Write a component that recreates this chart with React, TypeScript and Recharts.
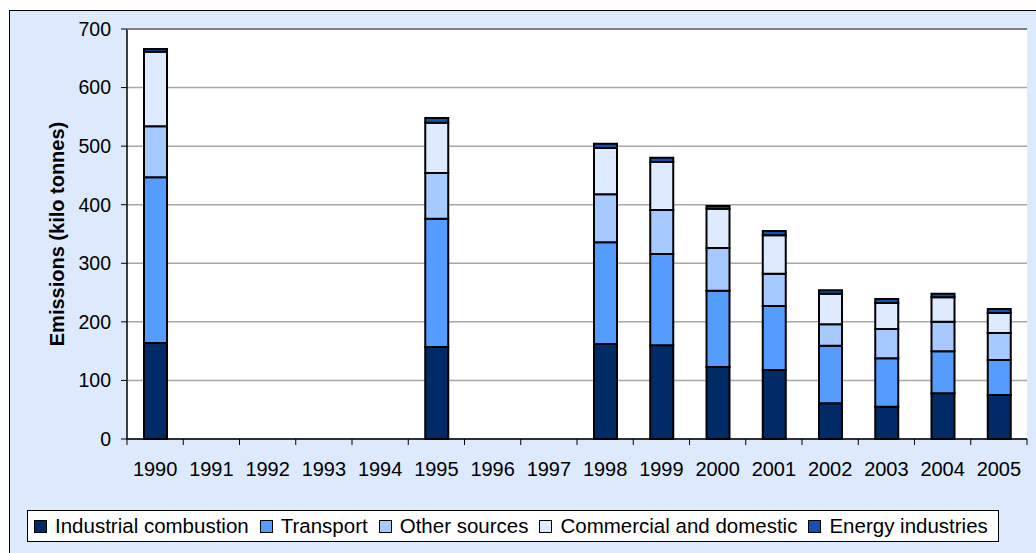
import { Bar, BarChart, CartesianGrid, XAxis, YAxis } from "recharts";

const years = ["1990", "1991", "1992", "1993", "1994", "1995", "1996", "1997", "1998", "1999", "2000", "2001", "2002", "2003", "2004", "2005"];

// kilo tonnes, null where no inventory year
const industrialCombustion = [164, null, null, null, null, 157, null, null, 162, 160, 123, 118, 61, 55, 78, 75];
const transport = [283, null, null, null, null, 219, null, null, 174, 156, 130, 109, 98, 83, 72, 60];
const otherSources = [87, null, null, null, null, 78, null, null, 82, 75, 73, 55, 37, 50, 50, 46];
const commercialDomestic = [127, null, null, null, null, 86, null, null, 79, 82, 67, 66, 52, 44, 42, 34];
const energyIndustries = [5, null, null, null, null, 8, null, null, 7, 7, 5, 7, 6, 7, 6, 7];

const yTicks = [0, 100, 200, 300, 400, 500, 600, 700];

const series = [
  { key: "industrial", name: "Industrial combustion", color: "#002b66", values: industrialCombustion },
  { key: "transport", name: "Transport", color: "#559cff", values: transport },
  { key: "other", name: "Other sources", color: "#a6caff", values: otherSources },
  { key: "commercial", name: "Commercial and domestic", color: "#ddeaff", values: commercialDomestic },
  { key: "energy", name: "Energy industries", color: "#1450b4", values: energyIndustries },
];

const data = years.map((year, i) => {
  const row: Record<string, string | number | null> = { year };
  series.forEach((s) => (row[s.key] = s.values[i]));
  return row;
});

const font = "'Liberation Sans', Arial, sans-serif";
const band = (1027 - 127) / years.length;

function YearTick(props: any) {
  const { x, y, payload, index } = props;
  const left = x - band / 2;
  return (
    <g>
      <line x1={left} y1={y - 8} x2={left} y2={y - 2} stroke="#000" />
      {index === years.length - 1 && <line x1={left + band} y1={y - 8} x2={left + band} y2={y - 2} stroke="#000" />}
      <text x={x} y={y + 29} textAnchor="middle" fontSize={20} fontFamily={font} fill="#000">
        {payload.value}
      </text>
    </g>
  );
}

export default function App() {
  return (
    <div style={{ position: "absolute", left: 0, top: 0, width: 1036, height: 553, overflow: "hidden", fontFamily: font }}>
      <div
        style={{
          position: "absolute",
          left: 9,
          top: 10,
          width: 1040,
          height: 560,
          background: "#dde9fc",
          border: "1px solid #000",
        }}
      />
      <div style={{ position: "absolute", left: 0, top: 0 }}>
        <BarChart width={1036} height={553} data={data} margin={{ top: 29, right: 9, bottom: 114 - 40, left: 0 }}>
          <CartesianGrid vertical={false} stroke="#a8a8a8" strokeWidth={1.5} fill="#fff" />
          <XAxis
            dataKey="year"
            height={40}
            axisLine={{ stroke: "#000", strokeWidth: 1.5 }}
            tickLine={false}
            interval={0}
            tick={<YearTick />}
          />
          <YAxis
            width={127}
            domain={[0, 700]}
            ticks={yTicks}
            interval={0}
            axisLine={{ stroke: "#000", strokeWidth: 1.5 }}
            tickLine={{ stroke: "#000" }}
            tickSize={6}
            tickMargin={10}
            tick={{ fontSize: 19.5, fontFamily: font, fill: "#000" }}
            label={{
              value: "Emissions (kilo tonnes)",
              angle: -90,
              position: "insideLeft",
              dx: 52,
              fontSize: 20,
              fontWeight: "bold",
              fontFamily: font,
              fill: "#000",
              style: { textAnchor: "middle" },
            }}
          />
          <YAxis
            yAxisId="frame"
            orientation="right"
            width={0}
            domain={[0, 700]}
            tick={false}
            tickLine={false}
            axisLine={{ stroke: "#808080", strokeWidth: 2.5 }}
          />
          {series.map((s) => (
            <Bar
              key={s.key}
              dataKey={s.key}
              name={s.name}
              stackId="a"
              fill={s.color}
              stroke="#000"
              strokeWidth={2}
              barSize={23}
              isAnimationActive={false}
            />
          ))}
        </BarChart>
      </div>
      <div style={{ position: "absolute", left: 127, top: 28, width: 900, height: 0, borderTop: "2px solid #808080" }} />
      <div
        style={{
          position: "absolute",
          left: 27,
          top: 510,
          width: 972,
          height: 32,
          background: "#fff",
          border: "1px solid #000",
          display: "flex",
          alignItems: "center",
          paddingLeft: 6,
          boxSizing: "border-box",
          fontSize: 20.5,
          color: "#000",
          whiteSpace: "nowrap",
        }}
      >
        {series.map((s) => (
          <div key={s.key} style={{ display: "flex", alignItems: "center", marginRight: 11 }}>
            <div style={{ width: 11, height: 11, background: s.color, border: "1.5px solid #000", marginRight: 8 }} />
            <span>{s.name}</span>
          </div>
        ))}
      </div>
    </div>
  );
}
